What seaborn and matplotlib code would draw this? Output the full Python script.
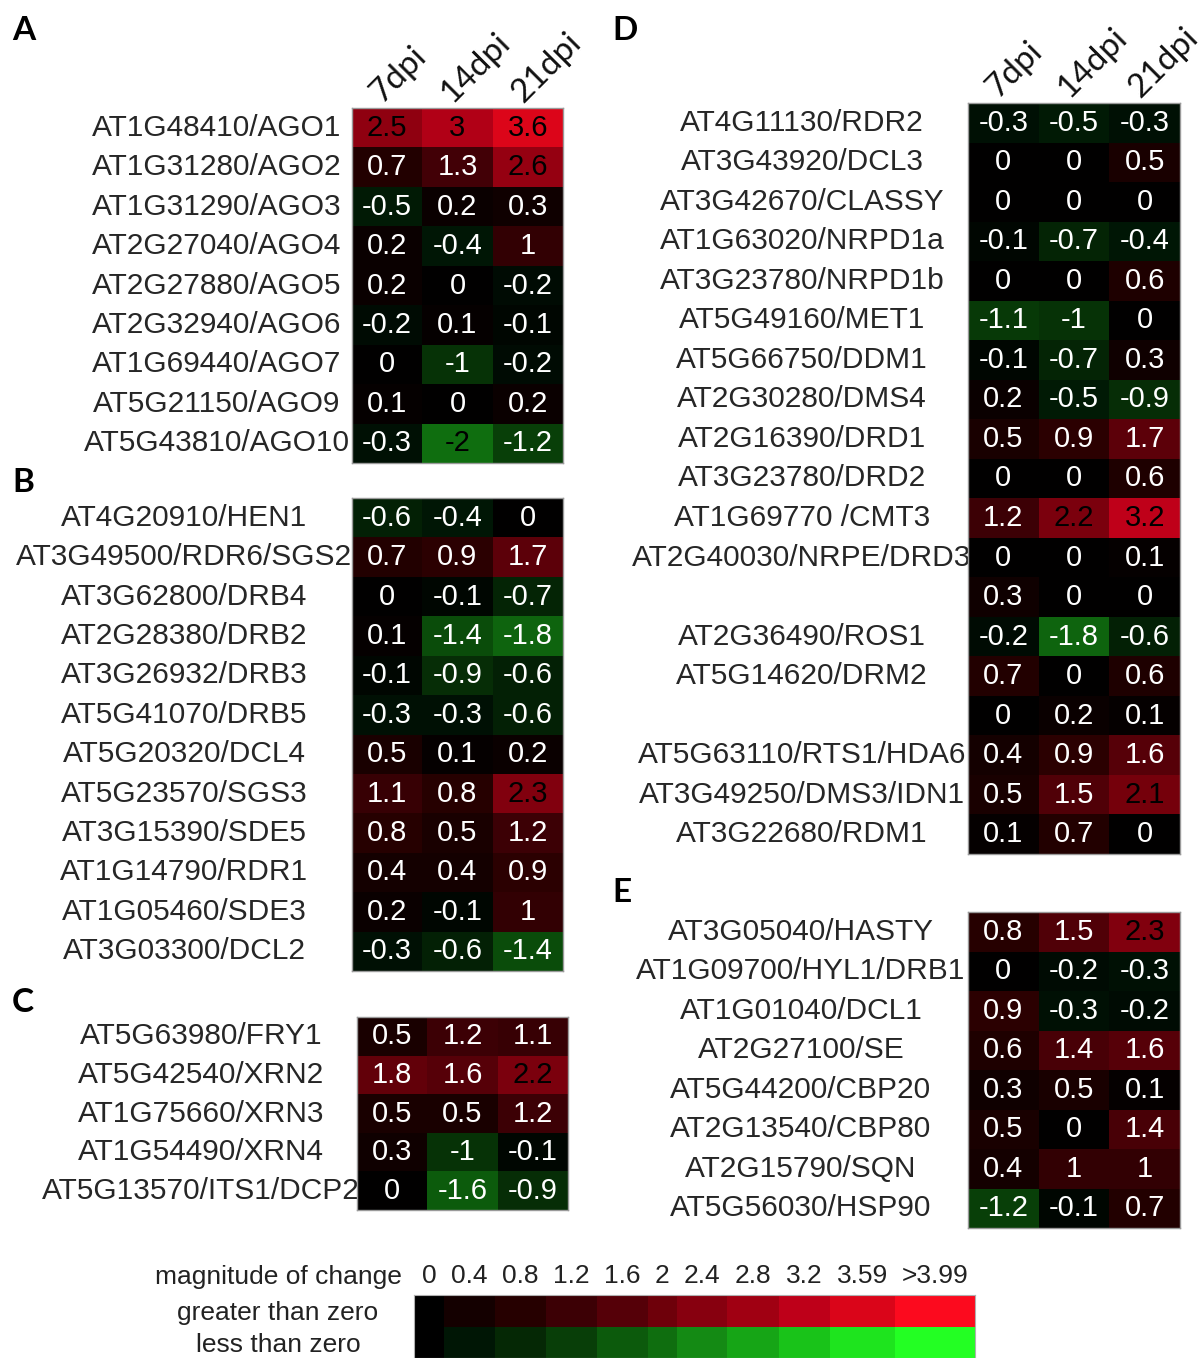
import numpy as np
import pandas as pd
import matplotlib
matplotlib.use('Agg')
import matplotlib.pyplot as plt
import matplotlib.transforms as mtrans
from matplotlib.colors import LinearSegmentedColormap, ListedColormap
import seaborn as sns

plt.rcParams['font.family'] = ['Liberation Sans', 'DejaVu Sans']

timepoints = ['7dpi', '14dpi', '21dpi']

genes_a = ['AT1G48410/AGO1', 'AT1G31280/AGO2', 'AT1G31290/AGO3', 'AT2G27040/AGO4',
           'AT2G27880/AGO5', 'AT2G32940/AGO6', 'AT1G69440/AGO7', 'AT5G21150/AGO9',
           'AT5G43810/AGO10']
vals_a = [[2.5, 3, 3.6], [0.7, 1.3, 2.6], [-0.5, 0.2, 0.3], [0.2, -0.4, 1],
          [0.2, 0, -0.2], [-0.2, 0.1, -0.1], [0, -1, -0.2], [0.1, 0, 0.2],
          [-0.3, -2, -1.2]]

genes_b = ['AT4G20910/HEN1', 'AT3G49500/RDR6/SGS2', 'AT3G62800/DRB4', 'AT2G28380/DRB2',
           'AT3G26932/DRB3', 'AT5G41070/DRB5', 'AT5G20320/DCL4', 'AT5G23570/SGS3',
           'AT3G15390/SDE5', 'AT1G14790/RDR1', 'AT1G05460/SDE3', 'AT3G03300/DCL2']
vals_b = [[-0.6, -0.4, 0], [0.7, 0.9, 1.7], [0, -0.1, -0.7], [0.1, -1.4, -1.8],
          [-0.1, -0.9, -0.6], [-0.3, -0.3, -0.6], [0.5, 0.1, 0.2], [1.1, 0.8, 2.3],
          [0.8, 0.5, 1.2], [0.4, 0.4, 0.9], [0.2, -0.1, 1], [-0.3, -0.6, -1.4]]

genes_c = ['AT5G63980/FRY1', 'AT5G42540/XRN2', 'AT1G75660/XRN3', 'AT1G54490/XRN4',
           'AT5G13570/ITS1/DCP2']
vals_c = [[0.5, 1.2, 1.1], [1.8, 1.6, 2.2], [0.5, 0.5, 1.2], [0.3, -1, -0.1],
          [0, -1.6, -0.9]]

genes_d = ['AT4G11130/RDR2', 'AT3G43920/DCL3', 'AT3G42670/CLASSY', 'AT1G63020/NRPD1a',
           'AT3G23780/NRPD1b', 'AT5G49160/MET1', 'AT5G66750/DDM1', 'AT2G30280/DMS4',
           'AT2G16390/DRD1', 'AT3G23780/DRD2', 'AT1G69770 /CMT3', 'AT2G40030/NRPE/DRD3',
           '', 'AT2G36490/ROS1', 'AT5G14620/DRM2', '', 'AT5G63110/RTS1/HDA6',
           'AT3G49250/DMS3/IDN1', 'AT3G22680/RDM1']
vals_d = [[-0.3, -0.5, -0.3], [0, 0, 0.5], [0, 0, 0], [-0.1, -0.7, -0.4],
          [0, 0, 0.6], [-1.1, -1, 0], [-0.1, -0.7, 0.3], [0.2, -0.5, -0.9],
          [0.5, 0.9, 1.7], [0, 0, 0.6], [1.2, 2.2, 3.2], [0, 0, 0.1],
          [0.3, 0, 0], [-0.2, -1.8, -0.6], [0.7, 0, 0.6], [0, 0.2, 0.1],
          [0.4, 0.9, 1.6], [0.5, 1.5, 2.1], [0.1, 0.7, 0]]

genes_e = ['AT3G05040/HASTY', 'AT1G09700/HYL1/DRB1', 'AT1G01040/DCL1', 'AT2G27100/SE',
           'AT5G44200/CBP20', 'AT2G13540/CBP80', 'AT2G15790/SQN', 'AT5G56030/HSP90']
vals_e = [[0.8, 1.5, 2.3], [0, -0.2, -0.3], [0.9, -0.3, -0.2], [0.6, 1.4, 1.6],
          [0.3, 0.5, 0.1], [0.5, 0, 1.4], [0.4, 1, 1], [-1.2, -0.1, 0.7]]

# legend (colour key)
legend_ticks = ['0', '0.4', '0.8', '1.2', '1.6', '2', '2.4', '2.8', '3.2', '3.59', '>3.99']
legend_steps = [0, 0.4, 0.8, 1.2, 1.6, 2.0, 2.4, 2.8, 3.2, 3.6, 4.0]
red_steps = ['#000000', '#140000', '#260000', '#3c0005', '#550008', '#6e000a',
             '#87000f', '#a00012', '#be0019', '#da0519', '#fc0a1e']
green_steps = ['#000000', '#001605', '#052805', '#083e08', '#0c5a0c', '#0f6e0f',
               '#148a14', '#16a516', '#19c319', '#1ee41e', '#23ff23']
legend_widths = [30, 51, 51, 51, 51, 29, 50, 52, 51, 65, 80]

# green -> black -> red, continuous
nodes = [(4 - m) / 8 for m in legend_steps[::-1]] + [(4 + m) / 8 for m in legend_steps[1:]]
cols = green_steps[::-1] + red_steps[1:]
cmap = LinearSegmentedColormap.from_list('gbr', list(zip(nodes, cols)))

W, H = 1203, 1358
fig = plt.figure(figsize=(W / 100, H / 100), dpi=100)


def px_rect(l, t, r, b):
    return [l / W, 1 - b / H, (r - l) / W, (b - t) / H]


def panel(box, genes, vals, pad_px, header=False):
    ax = fig.add_axes(px_rect(*box))
    df = pd.DataFrame(vals, index=genes, columns=timepoints)
    sns.heatmap(df, ax=ax, cmap=cmap, vmin=-4, vmax=4, cbar=False,
                annot=True, fmt='g', annot_kws={'fontsize': 21},
                xticklabels=timepoints if header else False, yticklabels=genes)
    for t, v in zip(ax.texts, np.ravel(vals)):
        t.set_color('black' if abs(v) >= 2 else 'white')
    ax.tick_params(axis='y', length=0, pad=pad_px * 0.72, labelsize=21.5,
                   labelcolor='#262626')
    for lab in ax.get_yticklabels():
        lab.set_rotation(0)
        lab.set_ha('center')
    if header:
        ax.xaxis.tick_top()
        ax.tick_params(axis='x', length=0, pad=3, labelsize=24, labelcolor='#111111')
        shift = mtrans.ScaledTranslation(-0.05, 0, fig.dpi_scale_trans)
        for lab in ax.get_xticklabels():
            lab.set_rotation(45)
            lab.set_ha('left')
            lab.set_va('baseline')
            lab.set_rotation_mode('anchor')
            lab.set_family(['Lato', 'DejaVu Sans'])
            lab.set_transform(lab.get_transform() + shift)
    ax.set_xlabel('')
    ax.set_ylabel('')
    for s in ax.spines.values():
        s.set_visible(True)
        s.set_color('#9a9a9a')
        s.set_linewidth(1)
    return ax


panel((352, 108, 563, 463), genes_a, vals_a, 135, header=True)
panel((352, 498, 563, 971), genes_b, vals_b, 168)
panel((357, 1017, 568, 1210), genes_c, vals_c, 156)
panel((968, 103, 1180, 854), genes_d, vals_d, 166, header=True)
panel((968, 912, 1180, 1228), genes_e, vals_e, 167)

for letter, x, y in [('A', 12, 30), ('B', 12, 482), ('C', 12, 1003),
                     ('D', 612, 30), ('E', 612, 893)]:
    fig.text(x / W, 1 - y / H, letter, fontsize=24, fontweight='bold',
             family=['Lato', 'DejaVu Sans'], ha='left', va='center')

# colour key
narrow = ['Liberation Sans Narrow', 'Liberation Sans', 'DejaVu Sans']
axl = fig.add_axes(px_rect(414, 1295, 975, 1358))
edges = np.concatenate([[0], np.cumsum(legend_widths)])
idx = np.array([np.arange(len(red_steps)), np.arange(len(red_steps)) + len(red_steps)])
axl.pcolormesh(edges, [0, 1, 2], idx, cmap=ListedColormap(red_steps + green_steps),
               vmin=-0.5, vmax=2 * len(red_steps) - 0.5)
axl.set_xlim(edges[0], edges[-1])
axl.set_ylim(2, 0)
axl.xaxis.tick_top()
axl.set_xticks((edges[:-1] + edges[1:]) / 2)
axl.set_xticklabels(legend_ticks, family=narrow, fontsize=19, color='#222222')
axl.set_yticks([0.5, 1.5])
axl.set_yticklabels(['greater than zero', 'less than zero'], family=narrow,
                    fontsize=19, color='#222222', ha='center')
axl.tick_params(axis='x', length=0, pad=5)
axl.tick_params(axis='y', length=0, pad=136 * 0.72)
for s in axl.spines.values():
    s.set_color('#b0b0b0')
fig.text(278 / W, 1 - 1277 / H, 'magnitude of change', family=narrow, fontsize=19,
         color='#222222', ha='center', va='center')

fig.savefig('out.png', dpi=100)
